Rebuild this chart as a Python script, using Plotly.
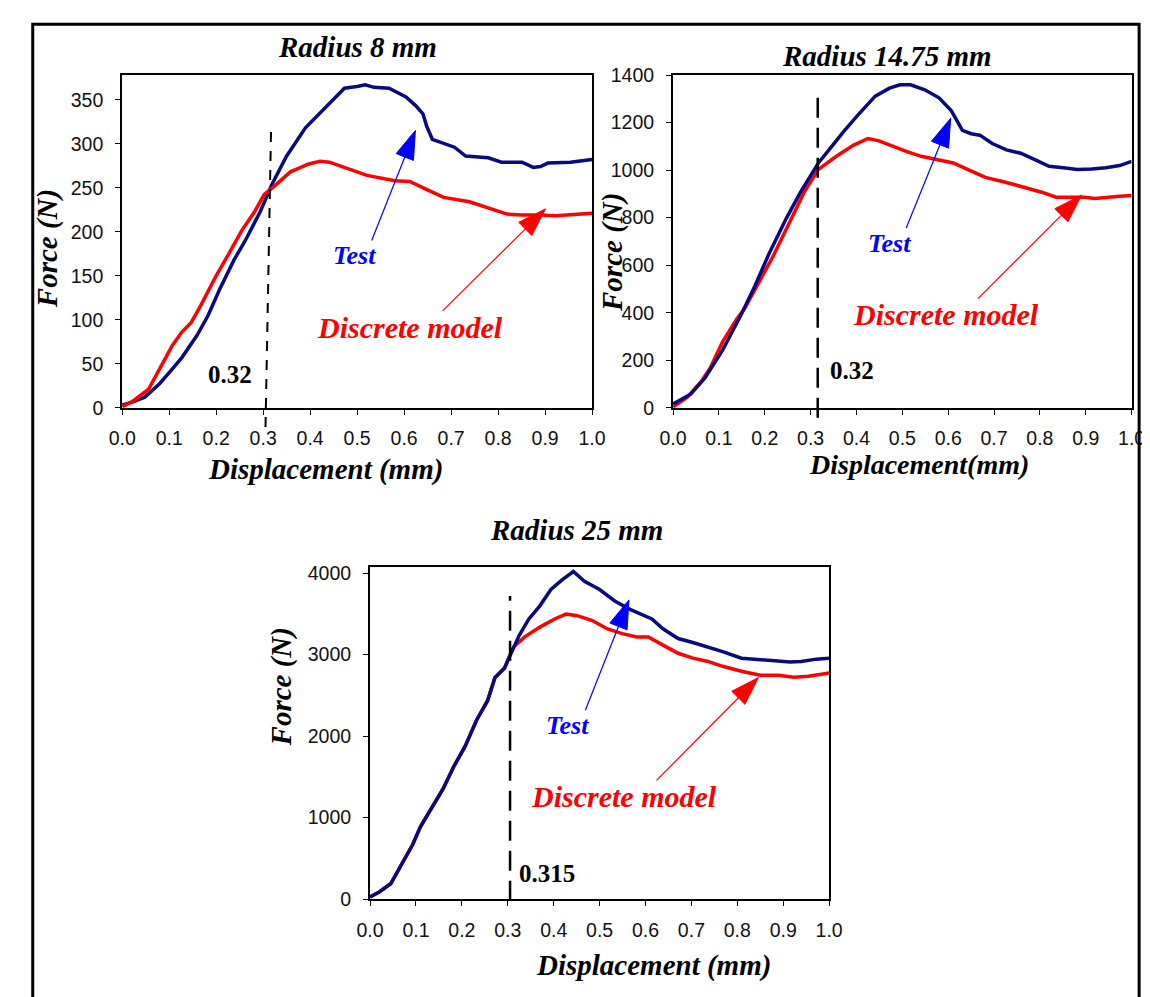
import plotly.graph_objects as go

W, H = 1150, 997

# ---------------- data ----------------
# Radius 8 mm
r8_test_x = [0.0, 0.02, 0.048, 0.079, 0.10, 0.127, 0.159, 0.183, 0.207, 0.238, 0.262, 0.294, 0.318,
             0.35, 0.39, 0.437, 0.473, 0.50, 0.517, 0.536, 0.568, 0.604, 0.625, 0.64, 0.648, 0.66,
             0.692, 0.707, 0.731, 0.779, 0.807, 0.851, 0.875, 0.89, 0.906, 0.954, 1.0]
r8_test_y = [3, 6, 12, 27, 40, 57, 82, 105, 134, 168, 190, 223, 253,
             286, 318, 344, 363, 365, 367, 364, 363, 353, 343, 334, 320, 305,
             299, 296, 286, 284, 279, 279, 273, 274, 278, 279, 282]
r8_model_x = [0.0, 0.024, 0.056, 0.079, 0.107, 0.127, 0.147, 0.167, 0.199, 0.227, 0.254, 0.282, 0.302,
              0.322, 0.358, 0.397, 0.421, 0.441, 0.477, 0.521, 0.58, 0.612, 0.644, 0.684, 0.739,
              0.779, 0.819, 0.851, 0.89, 0.922, 0.954, 1.0]
r8_model_y = [1, 8, 21, 43, 71, 86, 97, 116, 149, 175, 201, 223, 242,
              251, 268, 277, 280, 279, 272, 264, 258, 257, 249, 239, 234,
              227, 220, 219, 219, 218, 219, 221]

# Radius 14.75 mm
r14_test_x = [0.0, 0.039, 0.07, 0.108, 0.147, 0.178, 0.209, 0.247, 0.278, 0.317, 0.34, 0.371, 0.402,
              0.441, 0.472, 0.495, 0.518, 0.549, 0.58, 0.607, 0.631, 0.65, 0.669, 0.696, 0.727,
              0.758, 0.789, 0.82, 0.851, 0.882, 0.913, 0.944, 0.974, 1.0]
r14_test_y = [16, 58, 126, 242, 386, 510, 647, 797, 907, 1030, 1085, 1160, 1229,
              1311, 1345, 1359, 1359, 1338, 1304, 1249, 1167, 1153, 1147, 1112, 1085,
              1071, 1044, 1016, 1010, 1003, 1005, 1010, 1019, 1037]
r14_model_x = [0.0, 0.031, 0.062, 0.081, 0.108, 0.139, 0.155, 0.178, 0.217, 0.255, 0.286, 0.317,
               0.356, 0.394, 0.425, 0.449, 0.48, 0.51, 0.541, 0.58, 0.611, 0.642, 0.681, 0.727,
               0.766, 0.804, 0.835, 0.866, 0.897, 0.92, 0.944, 0.974, 1.0]
r14_model_y = [3, 44, 112, 167, 277, 373, 414, 496, 633, 784, 907, 1003,
               1058, 1105, 1133, 1123, 1099, 1078, 1058, 1044, 1030, 1003, 969, 948,
               927, 907, 886, 886, 886, 880, 886, 890, 893]

# Radius 25 mm
r25_test_x = [0.0, 0.02, 0.045, 0.069, 0.093, 0.11, 0.134, 0.159, 0.183, 0.207, 0.232, 0.256, 0.272,
              0.293, 0.309, 0.325, 0.346, 0.37, 0.394, 0.419, 0.443, 0.467, 0.5, 0.533, 0.565,
              0.589, 0.614, 0.638, 0.671, 0.703, 0.736, 0.768, 0.809, 0.85, 0.89, 0.915, 0.939,
              0.972, 1.0]
r25_test_y = [28, 88, 189, 429, 670, 891, 1111, 1352, 1633, 1874, 2195, 2435, 2716,
              2836, 3037, 3238, 3438, 3599, 3799, 3920, 4020, 3900, 3799, 3659, 3559,
              3498, 3438, 3318, 3198, 3149, 3097, 3037, 2957, 2937, 2925, 2909, 2917,
              2945, 2957]
r25_model_x = [0.0, 0.02, 0.045, 0.069, 0.093, 0.11, 0.134, 0.159, 0.183, 0.207, 0.232, 0.256, 0.272,
               0.293, 0.305, 0.313, 0.337, 0.37, 0.402, 0.427, 0.451, 0.484, 0.516, 0.549, 0.581,
               0.606, 0.638, 0.671, 0.703, 0.736, 0.768, 0.809, 0.85, 0.89, 0.923, 0.955, 1.0]
r25_model_y = [28, 88, 189, 429, 670, 891, 1111, 1352, 1633, 1874, 2195, 2435, 2716,
               2836, 3000, 3097, 3218, 3338, 3438, 3498, 3478, 3418, 3318, 3258, 3218,
               3218, 3117, 3017, 2957, 2917, 2857, 2796, 2748, 2748, 2724, 2736, 2776]

titles = ["Radius 8 mm", "Radius 14.75 mm", "Radius 25 mm"]
x_titles = ["Displacement (mm)", "Displacement(mm)", "Displacement (mm)"]
y_title = "Force (N)"
marker_values = ["0.32", "0.32", "0.315"]
x_ticks = [0.0, 0.1, 0.2, 0.3, 0.4, 0.5, 0.6, 0.7, 0.8, 0.9, 1.0]
y_ticks_r8 = [0, 50, 100, 150, 200, 250, 300, 350]
y_ticks_r14 = [0, 200, 400, 600, 800, 1000, 1200, 1400]
y_ticks_r25 = [0, 1000, 2000, 3000, 4000]

# ---------------- styles ----------------
NAVY = "#0A0A80"
RED = "#FF0000"
BLUE = "#0000FF"
SERIF = "Liberation Serif, Times New Roman, serif"
SANS = "Liberation Sans, Arial, sans-serif"

fig = go.Figure()


def add_curve(x, y, color, xa, ya):
    fig.add_trace(go.Scatter(x=x, y=y, mode="lines", line=dict(color=color, width=3.5),
                             xaxis=xa, yaxis=ya, showlegend=False, hoverinfo="skip"))


def add_arrow(tail, tip, color, xa, ya):
    fig.add_trace(go.Scatter(x=[tail[0], tip[0]], y=[tail[1], tip[1]], mode="lines+markers",
                             line=dict(color=color, width=1.2),
                             marker=dict(symbol="arrow", size=[0, 30], color=color, opacity=1,
                                         angleref="previous", line=dict(width=1, color=color)),
                             cliponaxis=False,
                             xaxis=xa, yaxis=ya, showlegend=False, hoverinfo="skip"))


# subplot 1
add_curve(r8_test_x, r8_test_y, NAVY, "x", "y")
add_curve(r8_model_x, r8_model_y, RED, "x", "y")
# subplot 2
add_curve(r14_model_x, r14_model_y, RED, "x2", "y2")
add_curve(r14_test_x, r14_test_y, NAVY, "x2", "y2")
# subplot 3
add_curve(r25_model_x, r25_model_y, RED, "x3", "y3")
add_curve(r25_test_x, r25_test_y, NAVY, "x3", "y3")

# arrows (tail -> tip), data coordinates
add_arrow((0.531, 190), (0.624, 315), BLUE, "x", "y")
add_arrow((0.682, 110), (0.901, 226), RED, "x", "y")
add_arrow((0.5085, 756), (0.6055, 1218), BLUE, "x2", "y2")
add_arrow((0.665, 459), (0.891, 895), RED, "x2", "y2")
add_arrow((0.469, 2317), (0.564, 3672), BLUE, "x3", "y3")
add_arrow((0.624, 1457), (0.846, 2719), RED, "x3", "y3")


def px2paper(px, py):
    return px / W, 1 - py / H


dom1x = [102.7 / W, 584.3 / W]
dom2x = [667.3 / W, 1137.3 / W]
dom3x = [356.7 / W, 827.3 / W]
domTop = [1 - 397.5 / H, 1 - 57.3 / H]
domBot = [1 - 900.0 / H, 1 - 560.0 / H]

axis_common = dict(showline=True, mirror=True, linecolor="black", linewidth=2,
                   ticks="outside", ticklen=5, tickwidth=1, tickcolor="black",
                   showgrid=False, zeroline=False,
                   tickfont=dict(family=SANS, size=19.5, color="#111111"))

fig.update_layout(
    width=W, height=H, margin=dict(l=0, r=0, t=0, b=0),
    paper_bgcolor="white", plot_bgcolor="white",
    xaxis=dict(domain=dom1x, anchor="y", range=[0, 1], tickvals=x_ticks, tickformat=".1f",
               ticklabelstandoff=7, **axis_common),
    yaxis=dict(domain=domTop, anchor="x", range=[0, 378], tickvals=y_ticks_r8,
               ticklabelstandoff=8, **axis_common),
    xaxis2=dict(domain=dom2x, anchor="y2", range=[0, 1], tickvals=x_ticks, tickformat=".1f",
                ticklabelstandoff=7, **axis_common),
    yaxis2=dict(domain=domTop, anchor="x2", range=[0, 1400], tickvals=y_ticks_r14,
                ticklabelstandoff=8, **axis_common),
    xaxis3=dict(domain=dom3x, anchor="y3", range=[0, 1], tickvals=x_ticks, tickformat=".1f",
                ticklabelstandoff=7, **axis_common),
    yaxis3=dict(domain=domBot, anchor="x3", range=[0, 4080], tickvals=y_ticks_r25,
                ticklabelstandoff=8, **axis_common),
)

ann = []


def label(text, px, py, size, angle=0):
    x, y = px2paper(px, py)
    ann.append(dict(text=text, x=x, y=y, xref="paper", yref="paper", xanchor="center",
                    yanchor="middle", showarrow=False, textangle=angle,
                    font=dict(family=SERIF, size=size, color="black", weight="bold", style="italic")))


# titles
label(titles[0], 344, 29, 29)
label(titles[1], 887, 38, 29)
label(titles[2], 568, 523, 29)
# x axis titles
label(x_titles[0], 311, 461, 29)
label(x_titles[1], 919, 456, 28)
label(x_titles[2], 647, 968, 29)
# y axis titles
label(y_title, 26, 235, 29, -90)
label(y_title, 605, 239, 29, -90)
label(y_title, 266, 683, 29, -90)


def data_text(text, x, y, xa, ya, color, size, italic=True):
    ann.append(dict(text=text, x=x, y=y, xref=xa, yref=ya, xanchor="center", yanchor="middle",
                    showarrow=False,
                    font=dict(family=SERIF, size=size, color=color, weight="bold",
                              style="italic" if italic else "normal")))


data_text("Test", 0.494, 173, "x", "y", BLUE, 26)
data_text("Discrete model", 0.613, 91, "x", "y", RED, 30)
data_text(marker_values[0], 0.230, 38, "x", "y", "black", 25, italic=False)

data_text("Test", 0.473, 691, "x2", "y2", BLUE, 26)
data_text("Discrete model", 0.595, 394, "x2", "y2", RED, 30)
data_text(marker_values[1], 0.391, 155, "x2", "y2", "black", 25, italic=False)

data_text("Test", 0.431, 2127, "x3", "y3", BLUE, 26)
data_text("Discrete model", 0.553, 1256, "x3", "y3", RED, 30)
data_text(marker_values[2], 0.385, 318, "x3", "y3", "black", 25, italic=False)

fig.update_layout(annotations=ann)

shapes = [
    # dashed reference lines
    dict(type="line", xref="x", yref="y domain", x0=0.305, x1=0.317, y0=-0.058, y1=0.851,
         line=dict(color="black", width=2, dash="10px,9px")),
    dict(type="line", xref="x2", yref="y2 domain", x0=0.3155, x1=0.3155, y0=-0.03, y1=0.945,
         line=dict(color="black", width=2.5, dash="20px,10px")),
    dict(type="line", xref="x3", yref="y3 domain", x0=0.305, x1=0.305, y0=-0.005, y1=0.912,
         line=dict(color="black", width=2.5, dash="20px,10px")),
    # outer frame
    dict(type="rect", xref="paper", yref="paper", x0=11 / W, x1=1145 / W, y0=-0.02, y1=1 - 5.3 / H,
         line=dict(color="black", width=3), fillcolor="rgba(0,0,0,0)", layer="above"),
]
fig.update_layout(shapes=shapes)

fig.write_html("out.html")
